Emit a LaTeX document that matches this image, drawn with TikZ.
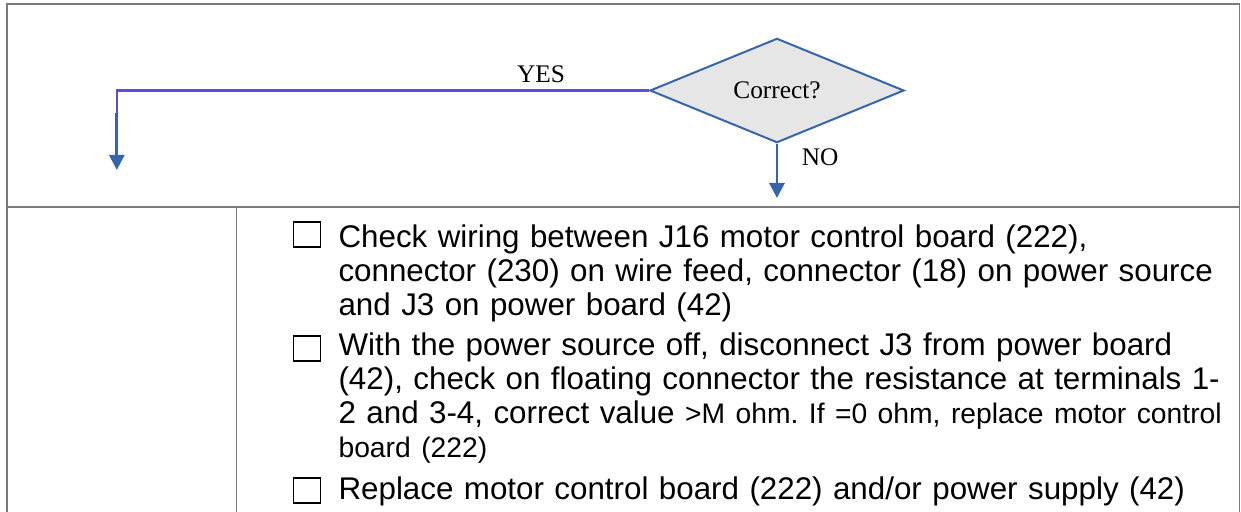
\documentclass[tikz,border=0pt]{standalone}
\usepackage{fontspec}
\setmainfont{Liberation Serif}
\setsansfont{Liberation Sans}
\usetikzlibrary{arrows.meta,shapes.geometric}
\definecolor{flowblue}{HTML}{3566AC}
\definecolor{yesviolet}{HTML}{5B4DE0}
\definecolor{decfill}{HTML}{E6E6E6}
\definecolor{ruleline}{HTML}{7A7A7A}
\frenchspacing
\newcommand{\minortext}[1]{{\fontsize{10.6}{12.75}\selectfont #1}}
\tikzset{
  tableline/.style={draw=ruleline,line width=.5pt},
  decision/.style={diamond,draw=flowblue,fill=decfill,line width=.75pt,
    minimum width=3.35cm,minimum height=1.32cm,inner sep=0pt,
    font=\fontsize{9.5}{11}\selectfont},
  flow/.style={-{Triangle[length=2mm,width=2mm]},draw=flowblue,line width=1.1pt},
  yesline/.style={draw=yesviolet,line width=.8pt},
  answer/.style={font=\fontsize{9.5}{11}\selectfont,inner sep=0pt},
  chkbox/.style={rectangle,draw=black,line width=.6pt,
    minimum width=3.6mm,minimum height=3.3mm,inner sep=0pt},
  checkitem/.style={anchor=base west,align=left,text width=14cm,inner sep=0pt,
    font=\sffamily\fontsize{11.75}{12.75}\selectfont},
}
\begin{document}
\begin{tikzpicture}[x=1cm,y=1cm]
\useasboundingbox (0,0) rectangle (16.356,-6.748);
\draw[tableline] (0.092,-6.748) -- (0.092,-0.053) -- (16.337,-0.053) -- (16.337,-6.748);
\draw[tableline] (0.092,-2.728) -- (16.337,-2.728);
\draw[tableline] (3.117,-2.728) -- (3.117,-6.748);
\node[decision] (check) at (10.24,-1.193) {Correct?};
\coordinate (yesturn) at (1.54,-1.49);
\coordinate (yesend) at (1.54,-2.24);
\coordinate (noend) at (10.24,-2.61);
\draw[yesline] (check.west) -| (yesturn);
\draw[flow] (yesturn) -- (yesend);
\draw[flow] (check.south) -- (noend);
\node[answer] (yeslbl) at (7.13,-0.975) {YES};
\node[answer] (nolbl) at (10.81,-2.07) {NO};
\node[chkbox] (box1) at (4.046,-3.091) {};
\node[checkitem] (item1) at (4.455,-3.26) {Check wiring between J16 motor control board (222),\\
  connector (230) on wire feed, connector (18) on power source\\
  and J3 on power board (42)};
\node[chkbox] (box2) at (4.046,-4.593) {};
\node[checkitem] (item2) at (4.455,-4.679) {With the power source off, disconnect J3 from power board\\
  (42), check on floating connector the resistance at terminals 1-\\
  2 and 3-4, correct value \minortext{>M ohm. If =0 ohm, replace motor control}\\
  \minortext{board (222)}};
\node[chkbox] (box3) at (4.046,-6.465) {};
\node[checkitem] (item3) at (4.455,-6.577) {Replace motor control board (222) and/or power supply (42)};
\end{tikzpicture}
\end{document}
